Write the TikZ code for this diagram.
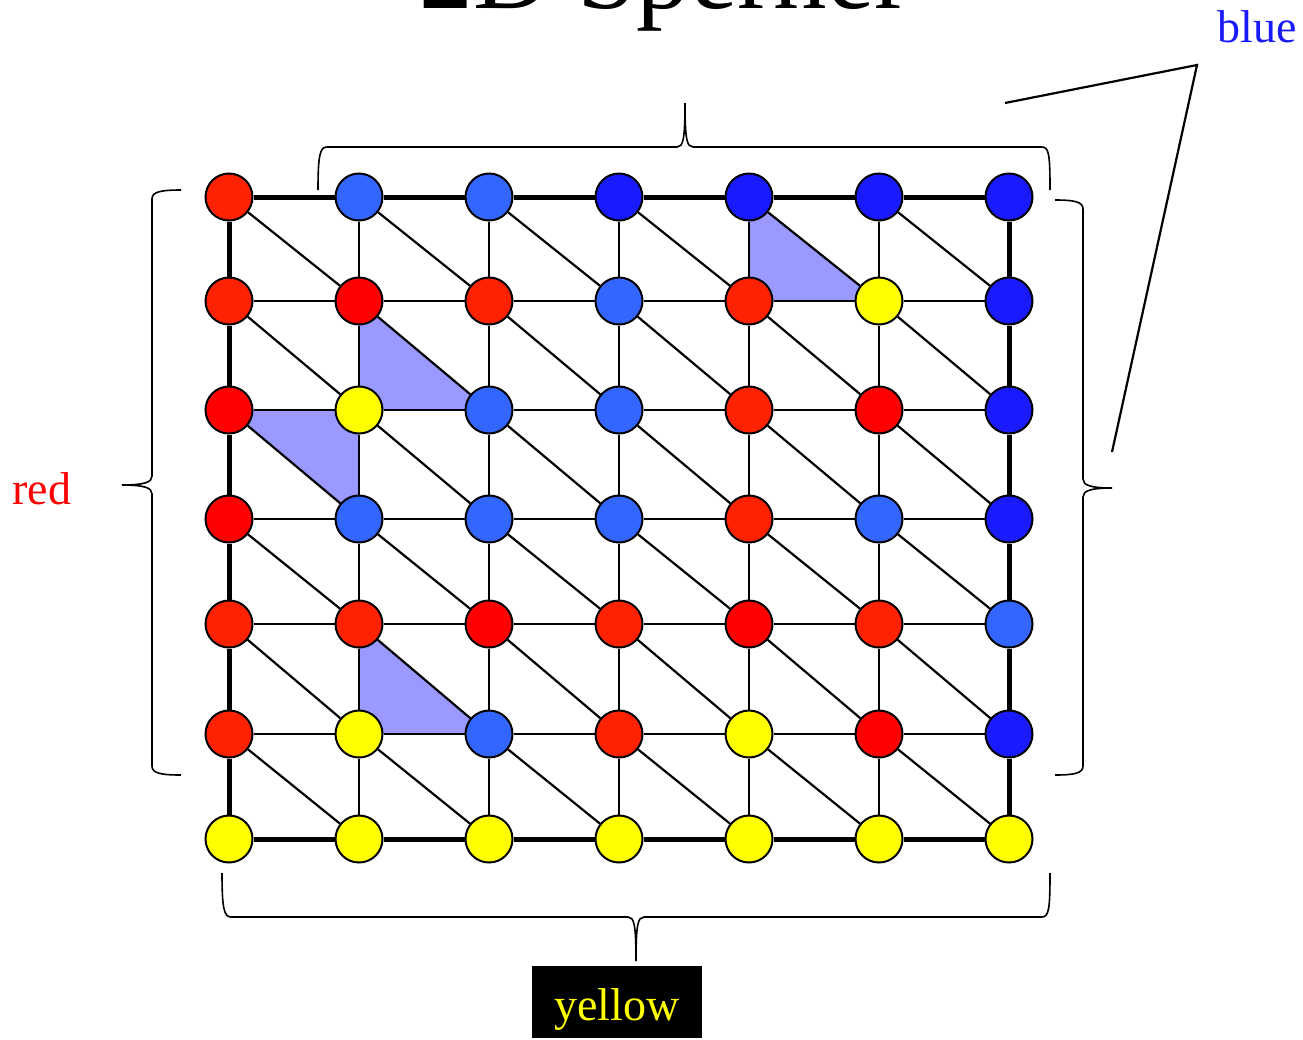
\documentclass[tikz,border=0pt]{standalone}
\usepackage{fontspec}
\setmainfont{Liberation Serif}
\usepackage{xcolor}
\usetikzlibrary{backgrounds}
\definecolor{cR}{RGB}{255,34,0}
\definecolor{cP}{RGB}{255,0,0}
\definecolor{cL}{RGB}{51,102,255}
\definecolor{cD}{RGB}{26,26,255}
\definecolor{cY}{RGB}{255,255,0}
\definecolor{cellfill}{RGB}{153,153,255}

\begin{document}
\begin{tikzpicture}[
    x=1pt, y=-1pt,
    vertex/.style={circle, draw=black, line width=2pt, minimum size=47pt, inner sep=0pt},
    grid/.style={line width=2.2pt},
    border/.style={line width=5pt},
    bracket/.style={line width=1.6pt},
    cell/.style={fill=cellfill},
    bigtext/.style={font=\fontsize{46}{50}\selectfont}
]
    \useasboundingbox (0,0) rectangle (1303,1039);

    % labelled vertices, one row per line
    \foreach \row/\yy/\cols in {0/197/{R,L,L,D,D,D,D},
                                1/301/{R,P,R,L,R,Y,D},
                                2/410/{P,Y,L,L,R,P,D},
                                3/519/{P,L,L,L,R,L,D},
                                4/624/{R,R,P,R,P,R,L},
                                5/734/{R,Y,L,R,Y,P,D},
                                6/839/{Y,Y,Y,Y,Y,Y,Y}} {
        \foreach \c [count=\col from 0] in \cols {
            \node[vertex, fill=c\c] (n-\row-\col) at (229+130*\col, \yy) {};
        }
    }

    % grid edges
    \foreach \r in {0,...,6} {
        \foreach \c [evaluate=\c as \cn using int(\c+1)] in {0,...,5} {
            \draw[grid] (n-\r-\c) -- (n-\r-\cn);
            \draw[grid] (n-\c-\r) -- (n-\cn-\r);
        }
    }
    \foreach \r [evaluate=\r as \rn using int(\r+1)] in {0,...,5} {
        \foreach \c [evaluate=\c as \cn using int(\c+1)] in {0,...,5} {
            \draw[grid] (n-\r-\c) -- (n-\rn-\cn);
        }
    }
    \foreach \c [evaluate=\c as \cn using int(\c+1)] in {0,...,5} {
        \draw[border] (n-0-\c) -- (n-0-\cn);
        \draw[border] (n-6-\c) -- (n-6-\cn);
        \draw[border] (n-\c-0) -- (n-\cn-0);
        \draw[border] (n-\c-6) -- (n-\cn-6);
    }

    % fully labelled cells
    \begin{scope}[on background layer]
        \fill[cell] (n-0-4.center) -- (n-1-4.center) -- (n-1-5.center) -- cycle;
        \fill[cell] (n-1-1.center) -- (n-2-1.center) -- (n-2-2.center) -- cycle;
        \fill[cell] (n-2-0.center) -- (n-2-1.center) -- (n-3-1.center) -- cycle;
        \fill[cell] (n-4-1.center) -- (n-5-1.center) -- (n-5-2.center) -- cycle;
    \end{scope}

    % braces
    \draw[bracket] (318,190) .. controls (318,155) and (320,147) .. (327,147) -- (677,147)
        .. controls (683,147) and (685,140) .. (685,103)
        .. controls (685,140) and (687,147) .. (693,147) -- (1042,147)
        .. controls (1049,147) and (1050,155) .. (1050,190);
    \draw[bracket] (222,873) .. controls (222,908) and (224,917) .. (231,917) -- (628,917)
        .. controls (634,917) and (636,924) .. (636,961)
        .. controls (636,924) and (638,917) .. (644,917) -- (1042,917)
        .. controls (1049,917) and (1050,908) .. (1050,873);
    \draw[bracket] (181,190) .. controls (160,190) and (152,192) .. (152,199) -- (152,476)
        .. controls (152,482) and (145,485) .. (122,485)
        .. controls (145,485) and (152,488) .. (152,494) -- (152,766)
        .. controls (152,773) and (160,775) .. (181,775);
    \draw[bracket] (1055,200) .. controls (1075,200) and (1083,202) .. (1083,209) -- (1083,479)
        .. controls (1083,485) and (1090,488) .. (1112,488)
        .. controls (1090,488) and (1083,491) .. (1083,497) -- (1083,766)
        .. controls (1083,773) and (1075,775) .. (1055,775);

    % pointer to the blue label
    \coordinate (bl-a) at (1005,103);
    \coordinate (bl-b) at (1197,65);
    \coordinate (bl-c) at (1112,452);
    \draw[grid] (bl-a) -- (bl-b) -- (bl-c);

    \node[anchor=base, font=\fontsize{107}{110}\selectfont] (title) at (665,8) {2D Sperner};
    \node[bigtext, text=cD, anchor=base] (lblue) at (1257,42) {blue};
    \node[bigtext, text=cP, anchor=base] (lred) at (42,504) {red};
    \node[fill=black, minimum width=170pt, minimum height=72pt] (lyellow) at (617,1002) {};
    \node[bigtext, text=cY, anchor=base] at (617,1020) {yellow};
\end{tikzpicture}
\end{document}
